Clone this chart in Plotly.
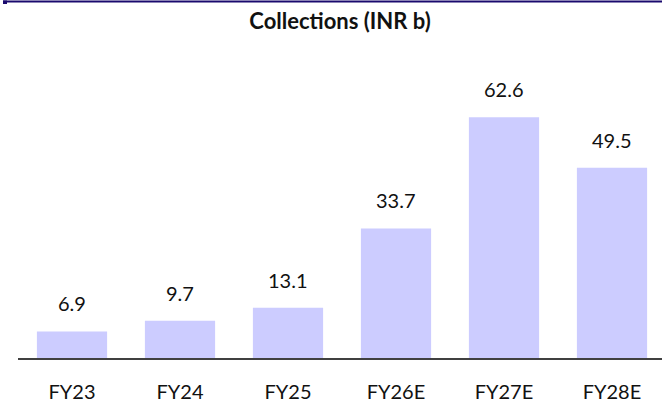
import plotly.graph_objects as go

categories = ["FY23", "FY24", "FY25", "FY26E", "FY27E", "FY28E"]
values = [6.9, 9.7, 13.1, 33.7, 62.6, 49.5]
labels = ["6.9", "9.7", "13.1", "33.7", "62.6", "49.5"]

W, H = 662, 403
ml, mr, mt, mb = 18, 0, 60, 45
plot_h = H - mt - mb
px_per_unit = 3.845
ymax = plot_h / px_per_unit

fig = go.Figure()
fig.add_trace(go.Bar(
    x=categories, y=values,
    marker=dict(color="#CCCCFF", line=dict(width=0)),
    hoverinfo="skip",
))

for c, v, t in zip(categories, values, labels):
    fig.add_annotation(x=c, y=v, text=t, showarrow=False, yanchor="bottom",
                       yshift=14, font=dict(family="Lato", size=20, color="#111111"))

# top navy rule
fig.add_shape(type="line", xref="paper", yref="paper",
              x0=(3 - ml) / (W - ml - mr), x1=1.0,
              y0=(H - mb - 1.5) / plot_h, y1=(H - mb - 1.5) / plot_h,
              line=dict(color="#1A0A6E", width=2))
fig.add_shape(type="rect", xref="paper", yref="paper",
              x0=(3 - ml) / (W - ml - mr), x1=(7 - ml) / (W - ml - mr),
              y0=(H - mb - 4) / plot_h, y1=(H - mb - 0.5) / plot_h,
              line=dict(width=0), fillcolor="#1A0A6E")

fig.update_layout(
    width=W, height=H,
    margin=dict(l=ml, r=mr, t=mt, b=mb),
    paper_bgcolor="white", plot_bgcolor="white",
    bargap=0.35,
    showlegend=False,
    title=dict(text="<b>Collections (INR b)</b>", x=340 / W, xref="container",
               xanchor="center", y=1 - 21 / H, yref="container", yanchor="middle",
               font=dict(family="Lato", size=22, color="#111111")),
    font=dict(family="Lato", size=20, color="#111111"),
)
fig.update_xaxes(range=[-0.5, -0.5 + (W - ml - mr) / 108], showline=True,
                 linecolor="#404040", linewidth=1.5, showgrid=False, zeroline=False,
                 ticks="", ticklabelstandoff=15,
                 tickfont=dict(family="Lato", size=20, color="#111111"))
fig.update_yaxes(range=[0, ymax], visible=False, showgrid=False, zeroline=False)

fig.write_html("out.html", config={"displayModeBar": False, "staticPlot": True},
               post_script="document.body.style.margin='0';document.body.style.overflow='hidden';")
